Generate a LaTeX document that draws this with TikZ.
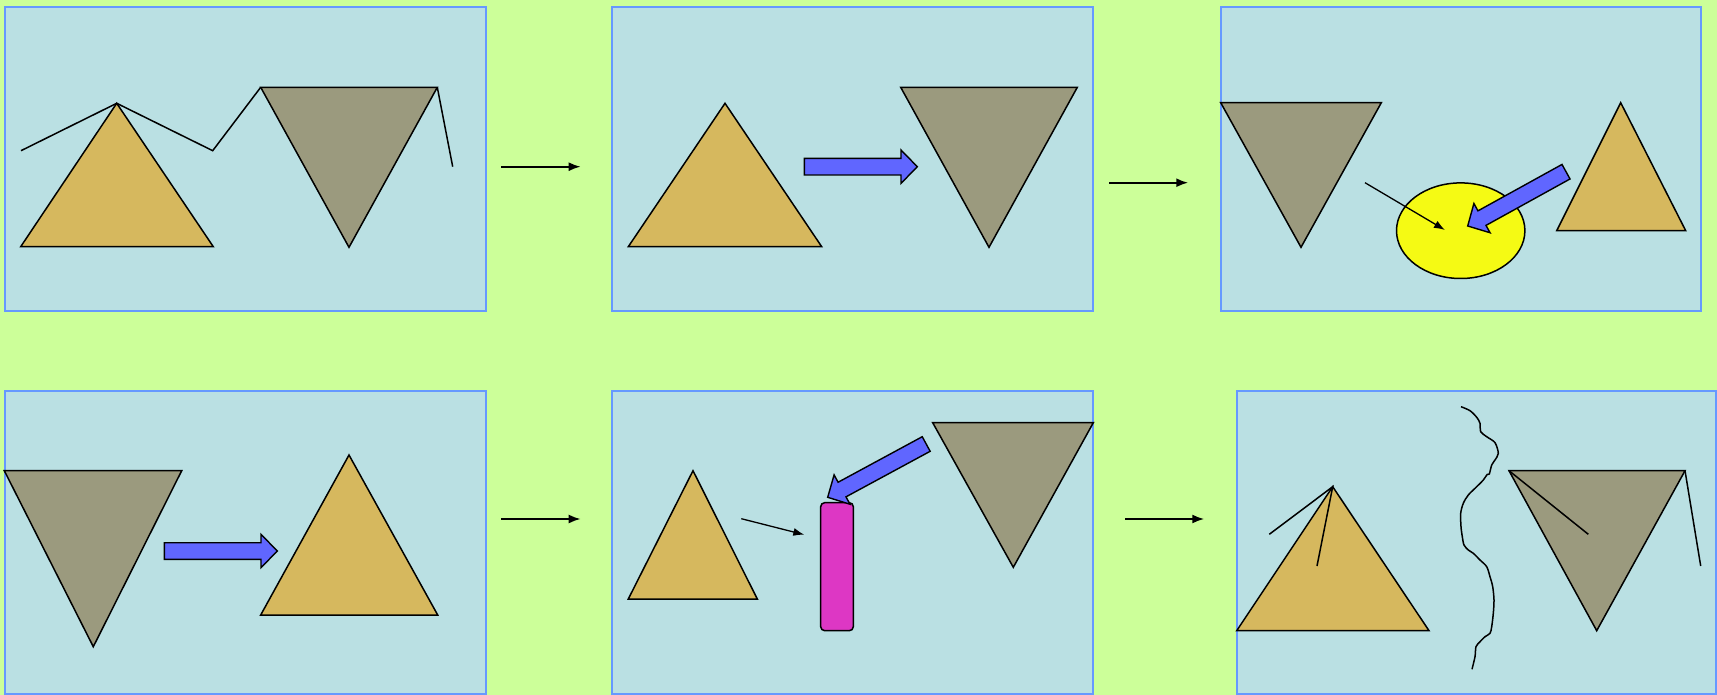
\documentclass[tikz,border=0pt]{standalone}
\usepackage{xcolor}
\usepackage{tikz}
\usetikzlibrary{arrows.meta,calc}
\definecolor{bggreen}{HTML}{CCFF99}
\definecolor{panelfill}{HTML}{BAE0E3}
\definecolor{paneledge}{HTML}{6699FF}
\definecolor{tanfill}{HTML}{D6B85E}
\definecolor{olivefill}{HTML}{9B9A7E}
\definecolor{arrowblue}{HTML}{6066FF}
\definecolor{blobyellow}{HTML}{F5FA14}
\definecolor{barpink}{HTML}{DD37C4}

% outlined fat arrow, tail #1 to tip #2
\newcommand{\fatarrow}[2]{%
  \coordinate (hb) at ($(#2)!16.3pt!(#1)$);
  \draw[fat] ($(#1)!8.3pt!90:(#2)$) -- ($(hb)!8.3pt!90:(#2)$) -- ($(hb)!16.7pt!90:(#2)$)
    -- (#2) -- ($(hb)!16.7pt!-90:(#2)$) -- ($(hb)!8.3pt!-90:(#2)$) -- ($(#1)!8.3pt!-90:(#2)$) -- cycle;}

\begin{document}
\begin{tikzpicture}[x=1pt,y=-1pt,
  panel/.style={draw=paneledge,fill=panelfill,line width=1.8pt,inner sep=0pt,outer sep=0pt,anchor=north west},
  up/.style={draw=black,fill=tanfill,line width=1.5pt,line join=miter},
  down/.style={draw=black,fill=olivefill,line width=1.5pt,line join=miter},
  fat/.style={draw=black,fill=arrowblue,line width=1.4pt,line join=miter},
  stroke/.style={draw=black,line width=1.5pt},
  thin/.style={-{Latex[length=11pt,width=8pt]},black,line width=1.3pt},
  step arrow/.style={-{Latex[length=12pt,width=9pt]},black,line width=2pt}]
\useasboundingbox (0,0) rectangle (1717,695);
\fill[bggreen] (0,0) rectangle (1717,695);

% panels
\node[panel,minimum width=481pt,minimum height=304pt] (p1) at (5,7) {};
\node[panel,minimum width=481pt,minimum height=304pt] (p2) at (612.3,7) {};
\node[panel,minimum width=480.6pt,minimum height=304pt] (p3) at (1220.7,7) {};
\node[panel,minimum width=481pt,minimum height=303pt] (p4) at (5,391) {};
\node[panel,minimum width=481pt,minimum height=303pt] (p5) at (612.3,391) {};
\node[panel,minimum width=479.3pt,minimum height=303pt] (p6) at (1236.7,391) {};

% step arrows between panels
\coordinate (s1a) at (501,166.7);   \coordinate (s1b) at (580.7,166.7);
\coordinate (s2a) at (1109,182.7);  \coordinate (s2b) at (1188.3,182.7);
\coordinate (s3a) at (501,519);     \coordinate (s3b) at (580.7,519);
\coordinate (s4a) at (1125,519);    \coordinate (s4b) at (1204.3,519);
\draw[step arrow] (s1a) -- (s1b);
\draw[step arrow] (s2a) -- (s2b);
\draw[step arrow] (s3a) -- (s3b);
\draw[step arrow] (s4a) -- (s4b);

% panel 1
\draw[up] (116.7,103.3) -- (20.7,246.7) -- (213.3,246.7) -- cycle;
\draw[down] (260.7,87.3) -- (437.3,87.3) -- (349,247.3) -- cycle;
\draw[stroke] (21,150.7) -- (116.7,103.3) -- (212.7,150.7) -- (260.7,87.3);
\draw[stroke] (437.3,87.3) -- (452.7,166.7);

% panel 2
\draw[up] (725,103.3) -- (628.3,246.7) -- (821.7,246.7) -- cycle;
\draw[down] (900.7,87.3) -- (1077.3,87.3) -- (989,247.3) -- cycle;
\coordinate (b2t) at (804.3,166.7); \coordinate (b2h) at (917.3,166.7);
\fatarrow{b2t}{b2h}

% panel 3
\draw[down] (1220.7,102.7) -- (1381.3,102.7) -- (1301,247.3) -- cycle;
\draw[up] (1620.7,102.7) -- (1556.7,230.7) -- (1685.7,230.7) -- cycle;
\draw[draw=black,fill=blobyellow,line width=1.5pt] (1460.7,230.7) ellipse [x radius=64.2, y radius=47.8];
\coordinate (t3a) at (1365,182.7); \coordinate (t3b) at (1445,230);
\draw[thin] (t3a) -- (t3b);
\coordinate (b3t) at (1566,171.7); \coordinate (b3h) at (1467.7,226);
\fatarrow{b3t}{b3h}

% panel 4
\draw[down] (4.3,470.7) -- (181.7,470.7) -- (93.3,646.7) -- cycle;
\draw[up] (349,455) -- (260.7,615) -- (437.7,615) -- cycle;
\coordinate (b4t) at (164.3,551); \coordinate (b4h) at (277.3,551);
\fatarrow{b4t}{b4h}

% panel 5
\draw[up] (693,470.7) -- (628.3,599) -- (757.3,599) -- cycle;
\draw[down] (932.7,422.7) -- (1093.3,422.7) -- (1013.3,567.3) -- cycle;
\draw[draw=black,fill=barpink,line width=1.5pt,rounded corners=4pt] (820.7,502.7) rectangle (853.3,630.7);
\coordinate (t5a) at (741.3,518.7); \coordinate (t5b) at (804.3,534.7);
\draw[thin] (t5a) -- (t5b);
\coordinate (b5t) at (926.2,444); \coordinate (b5h) at (827.7,497.3);
\fatarrow{b5t}{b5h}

% panel 6
\draw[up] (1332.7,486.7) -- (1236.7,630.7) -- (1429,630.7) -- cycle;
\draw[down] (1509,470.7) -- (1685,470.7) -- (1596.7,630.7) -- cycle;
\draw[stroke] (1269.3,534.3) -- (1332.7,486.7) -- (1317,566);
\draw[stroke] (1509,470.7) -- (1588.3,534.3);
\draw[stroke] (1685,470.7) -- (1700.7,566);
\draw[stroke,line join=round] plot[smooth,tension=0.5] coordinates {
  (1461,406.7) (1470,410.7) (1476.7,417.3) (1480,423.3) (1480.7,431.7) (1486.7,436.7)
  (1495,442.7) (1498.3,453.3) (1495,460) (1491.7,465) (1489.3,474) (1487.3,474.3)
  (1483.3,480) (1476.7,486.7) (1468.3,495) (1463.3,503.3) (1460.7,513.3) (1461,526.7)
  (1462.3,536.7) (1464,545) (1468.3,550) (1473.3,553.3) (1480,560) (1486.7,566.7)
  (1490,576.7) (1492.7,586.7) (1494,600) (1493.3,613.3) (1491.7,626.7) (1490,633.3)
  (1485,636.7) (1480,641.7) (1476,646.7) (1475,656.7) (1472,669.3)};
\end{tikzpicture}
\end{document}
